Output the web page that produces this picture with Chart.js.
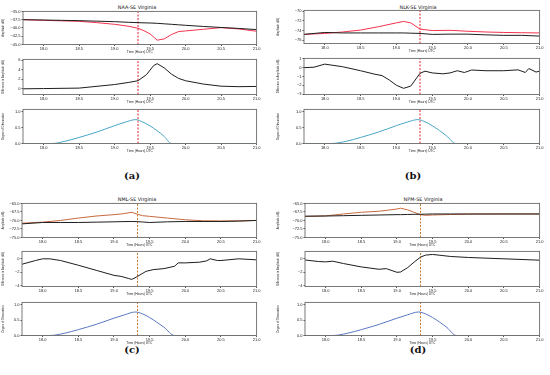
<!DOCTYPE html>
<html>
<head>
<meta charset="utf-8">
<script src="https://cdn.jsdelivr.net/npm/chart.js@4.4.1/dist/chart.umd.min.js"></script>
<style>
  body { margin: 0; background: #fff; }
  #fig { position: relative; width: 550px; height: 375px; overflow: hidden; font-family: "DejaVu Sans", sans-serif; }
  #fig canvas { position: absolute; }
  .title { position: absolute; font-size: 4.9px; transform: translate(-50%, -50%); white-space: nowrap; color: #111; }
  .tag { position: absolute; font: bold 10px "DejaVu Serif", serif; transform: translate(-50%, -50%); color: #111; }
</style>
</head>
<body>
<div id="fig"></div>
<script>
'use strict';

// shared x axis (hours UTC)
const xMin = 17.71;
const xMax = 21.0;
const xTicks = [18.0, 18.5, 19.0, 19.5, 20.0, 20.5, 21.0];
const totality = 19.33;   // dashed line, max obscuration

// NAA - SE Virginia
const naaTime = [17.71, 18.0, 18.25, 18.5, 18.75, 19.0, 19.2, 19.33, 19.4, 19.5, 19.6, 19.7, 19.8, 19.9, 20.0, 20.25, 20.5, 20.75, 21.0];
const naaQuiet = [-37.5, -37.6, -37.7, -37.8, -37.95, -38.1, -38.3, -38.4, -38.45, -38.5, -38.6, -38.75, -38.9, -39.05, -39.2, -39.55, -39.85, -40.15, -40.5];
const naaEclipse = [-37.5, -37.7, -37.85, -38.0, -38.4, -38.9, -39.5, -40.1, -40.7, -41.8, -43.7, -43.3, -42.0, -41.1, -40.9, -40.4, -39.9, -40.3, -41.0];
const naaDiffTime = [17.71, 18.0, 18.5, 19.0, 19.2, 19.33, 19.45, 19.55, 19.6, 19.7, 19.8, 19.9, 20.0, 20.25, 20.5, 20.75, 21.0];
const naaDiff = [0.0, 0.05, 0.15, 0.9, 1.35, 1.7, 3.0, 4.9, 5.3, 4.4, 3.1, 2.2, 1.7, 1.0, 0.55, 0.45, 0.5];
const naaObsTime = [17.71, 18.12, 18.3, 18.5, 18.75, 19.0, 19.15, 19.3, 19.4, 19.5, 19.6, 19.7, 19.8, 21.0];
const naaObs = [0, 0, 0.07, 0.19, 0.36, 0.56, 0.67, 0.75, 0.67, 0.55, 0.4, 0.22, 0.0, 0];

// NLK - SE Virginia
const nlkTime = [17.71, 18.0, 18.25, 18.5, 18.75, 19.0, 19.1, 19.2, 19.33, 19.5, 19.75, 20.0, 20.25, 20.5, 20.75, 21.0];
const nlkQuiet = [-74.8, -74.4, -74.5, -74.5, -74.5, -74.5, -74.5, -74.55, -74.6, -74.8, -74.75, -74.75, -74.9, -75.0, -75.0, -75.15];
const nlkEclipse = [-74.8, -74.6, -74.3, -73.9, -73.2, -72.4, -72.1, -72.4, -73.7, -74.0, -73.95, -74.15, -74.3, -74.4, -74.45, -74.5];
const nlkDiffTime = [17.71, 17.85, 18.0, 18.25, 18.5, 18.7, 18.8, 18.9, 19.0, 19.1, 19.2, 19.33, 19.4, 19.5, 19.65, 19.75, 19.85, 19.95, 20.05, 20.25, 20.5, 20.7, 20.8, 20.85, 20.95, 21.0];
const nlkDiff = [0.0, 0.05, 0.4, 0.1, -0.35, -0.75, -0.9, -1.4, -2.0, -2.35, -2.1, -0.65, -0.4, -0.6, -0.7, -0.6, -0.35, -0.55, -0.27, -0.35, -0.35, -0.25, -0.55, -0.1, -0.5, -0.4];
const nlkObsTime = [17.71, 18.09, 18.3, 18.5, 18.75, 19.0, 19.15, 19.3, 19.4, 19.5, 19.6, 19.7, 19.83, 21.0];
const nlkObs = [0, 0, 0.07, 0.19, 0.36, 0.56, 0.67, 0.75, 0.68, 0.56, 0.41, 0.24, 0.0, 0];

// NML - SE Virginia
const nmlTime = [17.71, 18.0, 18.25, 18.5, 18.75, 19.0, 19.1, 19.25, 19.33, 19.4, 19.5, 19.75, 20.0, 20.25, 20.5, 20.75, 21.0];
const nmlQuiet = [-71.0, -70.6, -70.6, -70.6, -70.5, -70.4, -70.35, -70.3, -70.35, -70.45, -70.6, -70.4, -70.3, -70.3, -70.3, -70.2, -70.0];
const nmlEclipse = [-70.8, -70.5, -70.0, -69.3, -68.7, -68.3, -68.1, -67.6, -68.2, -68.6, -68.8, -69.3, -69.8, -70.1, -70.15, -70.1, -70.0];
const nmlDiffTime = [17.71, 17.9, 18.0, 18.1, 18.25, 18.5, 18.75, 19.0, 19.1, 19.2, 19.25, 19.33, 19.45, 19.55, 19.7, 19.85, 19.9, 20.0, 20.2, 20.3, 20.35, 20.45, 20.5, 20.75, 21.0];
const nmlDiff = [-0.8, -0.25, 0.0, 0.0, -0.25, -0.95, -1.7, -2.45, -2.6, -2.9, -3.05, -2.6, -1.85, -1.6, -1.45, -1.1, -0.6, -0.6, -0.5, -0.3, 0.0, -0.25, -0.25, 0.0, -0.15];
const nmlObsTime = [17.71, 18.1, 18.3, 18.5, 18.75, 19.0, 19.15, 19.3, 19.4, 19.5, 19.6, 19.7, 19.85, 21.0];
const nmlObs = [0, 0, 0.07, 0.19, 0.36, 0.56, 0.67, 0.76, 0.7, 0.58, 0.43, 0.27, 0.0, 0];

// NPM - SE Virginia
const npmTime = [17.69, 18.0, 18.25, 18.5, 18.75, 19.0, 19.05, 19.15, 19.25, 19.33, 19.4, 19.5, 19.75, 20.0, 20.5, 21.0];
const npmQuiet = [-68.75, -68.7, -68.6, -68.5, -68.4, -68.3, -68.3, -68.25, -68.2, -68.2, -68.15, -68.1, -68.1, -68.1, -68.1, -68.1];
const npmEclipse = [-68.85, -68.65, -68.1, -67.6, -67.3, -66.65, -66.4, -66.9, -67.7, -68.3, -68.5, -68.4, -68.25, -68.15, -68.1, -68.1];
const npmDiffTime = [17.69, 17.9, 18.0, 18.1, 18.25, 18.5, 18.75, 18.85, 19.0, 19.05, 19.15, 19.25, 19.33, 19.4, 19.5, 19.75, 20.0, 20.5, 21.0];
const npmDiff = [-0.15, -0.4, -0.45, -0.35, -0.7, -1.2, -1.55, -1.45, -2.0, -1.95, -1.3, -0.4, 0.25, 0.55, 0.65, 0.35, 0.2, 0.0, -0.2];
const npmObsTime = [17.69, 18.1, 18.3, 18.5, 18.75, 19.0, 19.15, 19.3, 19.4, 19.5, 19.6, 19.7, 19.83, 21.0];
const npmObs = [0, 0, 0.07, 0.19, 0.36, 0.56, 0.67, 0.76, 0.7, 0.58, 0.43, 0.26, 0.0, 0];

// y tick labels
const ampTicksNaa = [-45.0, -42.5, -40.0, -37.5, -35.0];
const ampTicksNlk = [-76, -74, -72, -70];
const ampTicksLow = [-75.0, -72.5, -70.0, -67.5, -65.0];
const diffTicksNaa = [0, 2, 4, 6];
const diffTicksNlk = [-3, -2, -1, 0, 1];
const diffTicksLow = [-4, -2, 0];
const obsTicks = [0.0, 0.5, 1.0];

const fig = document.getElementById('fig');

function pts(xs, ys) {
  return xs.map((x, i) => ({ x: x, y: ys[i] }));
}

function fmt(v, d) {
  return v.toFixed(d).replace('-', '\u2212');
}

// full box round the plot area, like matplotlib spines
const framePlugin = {
  id: 'frame',
  afterDraw(chart) {
    const a = chart.chartArea;
    const c = chart.ctx;
    c.save();
    c.strokeStyle = '#6a6a6a';
    c.lineWidth = 0.9;
    c.strokeRect(a.left, a.top, a.right - a.left, a.bottom - a.top);
    c.restore();
  }
};

function addText(cls, txt, x, y) {
  let d = document.createElement('div');
  d.className = cls;
  d.textContent = txt;
  d.style.left = x + 'px';
  d.style.top = y + 'px';
  fig.appendChild(d);
}

function makePlot(p) {
  const yw = p.x - p.col;
  const padTop = 3, padRight = 4, xh = 9.5;
  const cv = document.createElement('canvas');
  cv.width = yw + p.w + padRight;
  cv.height = Math.ceil(padTop + p.h + xh);
  cv.style.left = p.col + 'px';
  cv.style.top = (p.y - padTop) + 'px';
  fig.appendChild(cv);

  const datasets = p.lines.map(l => ({
    data: pts(l.x, l.y),
    borderColor: l.color,
    borderWidth: 1,
    pointRadius: 0,
    cubicInterpolationMode: l.smooth ? 'monotone' : 'default',
    tension: 0
  }));
  datasets.push({
    data: [{ x: totality, y: p.yMin }, { x: totality, y: p.yMax }],
    borderColor: p.vColor,
    borderWidth: 1,
    borderDash: [2, 1.5],
    pointRadius: 0
  });

  new Chart(cv, {
    type: 'line',
    data: { datasets: datasets },
    options: {
      responsive: false,
      animation: false,
      events: [],
      layout: { padding: { top: padTop, right: padRight, left: 0, bottom: 0 } },
      plugins: { legend: { display: false }, tooltip: { enabled: false } },
      scales: {
        x: {
          type: 'linear', min: xMin, max: xMax,
          afterBuildTicks: s => { s.ticks = xTicks.map(v => ({ value: v })); },
          afterFit: s => { s.height = xh; },
          ticks: { callback: v => v.toFixed(1), font: { size: 4 }, color: '#222', padding: 0.5, maxRotation: 0, autoSkip: false },
          grid: { display: true, drawOnChartArea: false, tickLength: 1.5, color: '#555' },
          border: { display: false },
          title: { display: true, text: 'Time (Hours) UTC', font: { size: 3.2 }, color: '#222', padding: { top: 0, bottom: 0 } }
        },
        y: {
          type: 'linear', min: p.yMin, max: p.yMax,
          afterBuildTicks: s => { s.ticks = p.yTicks.map(v => ({ value: v })); },
          afterFit: s => { s.width = yw; },
          ticks: { callback: v => fmt(v, p.digits), font: { size: 4 }, color: '#222', padding: 1, autoSkip: false },
          grid: { display: true, drawOnChartArea: false, tickLength: 1.5, color: '#555' },
          border: { display: false },
          title: { display: true, text: p.yTitle, font: { size: 2.7 }, color: '#222', padding: { top: 2, bottom: 0 } }
        }
      }
    },
    plugins: [framePlugin]
  });
}

const black = '#1e1e1e';
const redA = '#f2334f';
const brown = '#c66a3e';
const teal = '#48a6c6';
const blue = '#5b78c2';

const panels = [
  { col: 0, x: 23, w: 234, tops: [11, 59, 109], hs: [33, 35, 34], title: 'NAA-SE Virginia', tag: '(a)', tx: 137, ty: 7, gy: 175,
    amp: [naaTime, naaQuiet, naaEclipse], ampRange: [-45, -35], ampTicks: ampTicksNaa, ampDigits: 1, eclColor: redA, vColor: '#e0202a',
    diff: [naaDiffTime, naaDiff], diffRange: [-1.2, 6.2], diffTicks: diffTicksNaa,
    obs: [naaObsTime, naaObs], obsColor: teal },
  { col: 275, x: 304, w: 236, tops: [10, 58, 109], hs: [33, 36, 34], title: 'NLK-SE Virginia', tag: '(b)', tx: 418, ty: 7, gy: 175,
    amp: [nlkTime, nlkQuiet, nlkEclipse], ampRange: [-76.7, -69.8], ampTicks: ampTicksNlk, ampDigits: 0, eclColor: redA, vColor: '#e0202a',
    diff: [nlkDiffTime, nlkDiff], diffRange: [-3.05, 1.05], diffTicks: diffTicksNlk,
    obs: [nlkObsTime, nlkObs], obsColor: teal },
  { col: 0, x: 22, w: 235, tops: [203, 251, 302], hs: [34, 35, 33], title: 'NML-SE Virginia', tag: '(c)', tx: 137, ty: 199, gy: 349,
    amp: [nmlTime, nmlQuiet, nmlEclipse], ampRange: [-75, -65], ampTicks: ampTicksLow, ampDigits: 1, eclColor: brown, vColor: '#c8782c',
    diff: [nmlDiffTime, nmlDiff], diffRange: [-4.1, 1.1], diffTicks: diffTicksLow,
    obs: [nmlObsTime, nmlObs], obsColor: blue },
  { col: 275, x: 305, w: 235, tops: [203, 251, 302], hs: [34, 35, 33], title: 'NPM-SE Virginia', tag: '(d)', tx: 423, ty: 199, gy: 349,
    amp: [npmTime, npmQuiet, npmEclipse], ampRange: [-75, -65], ampTicks: ampTicksLow, ampDigits: 1, eclColor: brown, vColor: '#c8782c',
    diff: [npmDiffTime, npmDiff], diffRange: [-4.1, 1.1], diffTicks: diffTicksLow,
    obs: [npmObsTime, npmObs], obsColor: blue }
];

panels.forEach(pn => {
  addText('title', pn.title, pn.tx, pn.ty);
  addText('tag', pn.tag, pn.tx - 5, pn.gy);

  makePlot({ col: pn.col, x: pn.x, w: pn.w, y: pn.tops[0], h: pn.hs[0],
    yMin: pn.ampRange[0], yMax: pn.ampRange[1], yTicks: pn.ampTicks, digits: pn.ampDigits,
    yTitle: 'Amplitude (dB)', vColor: pn.vColor,
    lines: [{ x: pn.amp[0], y: pn.amp[1], color: black }, { x: pn.amp[0], y: pn.amp[2], color: pn.eclColor }] });

  makePlot({ col: pn.col, x: pn.x, w: pn.w, y: pn.tops[1], h: pn.hs[1],
    yMin: pn.diffRange[0], yMax: pn.diffRange[1], yTicks: pn.diffTicks, digits: 0,
    yTitle: 'Difference in Amplitude (dB)', vColor: pn.vColor,
    lines: [{ x: pn.diff[0], y: pn.diff[1], color: black }] });

  makePlot({ col: pn.col, x: pn.x, w: pn.w, y: pn.tops[2], h: pn.hs[2],
    yMin: 0, yMax: 1.07, yTicks: obsTicks, digits: 1,
    yTitle: 'Degree of Obscuration', vColor: pn.vColor,
    lines: [{ x: pn.obs[0], y: pn.obs[1], color: pn.obsColor, smooth: true }] });
});
</script>
</body>
</html>
